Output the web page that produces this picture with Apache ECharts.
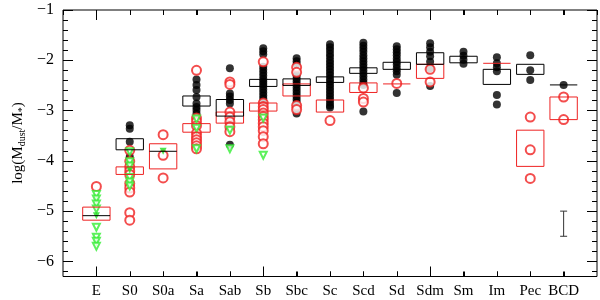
<!DOCTYPE html>
<html><head><meta charset="utf-8">
<script src="https://cdn.jsdelivr.net/npm/echarts@6/dist/echarts.min.js"></script>
<style>html,body{margin:0;padding:0;background:#fff}#c{width:600px;height:300px}</style>
</head><body><div id="c"></div>
<script>
const categories = ['E','S0','S0a','Sa','Sab','Sb','Sbc','Sc','Scd','Sd','Sdm','Sm','Im','Pec','BCD'];
const yMajorTicks = [-6,-5,-4,-3,-2,-1];

const blackPoints = [
  [],
  [-3.29,-3.36,-3.62,-3.92,-3.97,-4.19],
  [],
  [-2.38,-2.49,-2.59,-2.73,-2.86,-2.93,-2.99,-3.06,-3.13,-3.29],
  [-2.16,-2.66,-2.72,-2.79,-2.86,-3.19,-3.26,-3.68],
  [-1.76,-1.82,-1.88,-2.13,-2.19,-2.25,-2.31,-2.37,-2.42,-2.47,-2.52,-2.58,-2.64,-2.70,-2.76,-2.82,-2.88,-2.95,-3.02,-3.09],
  [-1.96,-2.02,-2.08,-2.30,-2.36,-2.42,-2.48,-2.54,-2.60,-2.66,-2.72,-2.78,-2.84,-2.94,-3.06],
  [-1.68,-1.74,-1.80,-1.87,-1.93,-2.00,-2.06,-2.12,-2.18,-2.24,-2.30,-2.36,-2.42,-2.48,-2.54,-2.60,-2.66,-2.72,-2.78,-2.84,-2.90,-2.94],
  [-1.65,-1.71,-1.77,-1.83,-1.90,-1.96,-2.02,-2.08,-2.14,-2.20,-2.26,-2.32,-2.38,-2.44,-2.49,-3.02],
  [-1.72,-1.78,-1.84,-1.90,-1.97,-2.03,-2.09,-2.16,-2.22,-2.29,-2.65],
  [-1.66,-1.74,-1.83,-1.92,-2.03,-2.16,-2.51],
  [-1.83,-1.91,-1.99,-2.07],
  [-1.94,-2.06,-2.14,-2.22,-2.69,-2.88],
  [-1.90,-2.20,-2.39],
  [-2.49]
];
const redPoints = [
  [-4.51],
  [-3.79,-4.01,-4.12,-4.20,-4.27,-4.45,-4.54,-4.62,-5.03,-5.18],
  [-3.48,-3.89,-4.34],
  [-2.20,-3.15,-3.22,-3.30,-3.45,-3.52,-3.58,-3.64,-3.70,-3.76],
  [-2.43,-2.48,-3.03,-3.13,-3.22,-3.32,-3.42],
  [-2.03,-2.85,-2.92,-2.98,-3.05,-3.12,-3.18,-3.25,-3.32,-3.40,-3.52,-3.66],
  [-2.14,-2.24,-2.90,-2.98],
  [-3.20],
  [-2.55,-2.76,-2.83],
  [-2.46],
  [-2.18,-2.43],
  [],
  [],
  [-3.13,-3.78,-4.35],
  [-2.73,-3.18]
];
const greenPoints = [
  [-4.67,-4.76,-4.86,-4.96,-5.32,-5.52,-5.60,-5.70],
  [-3.82,-4.02,-4.10,-4.33,-4.42,-4.50],
  [],
  [-3.17,-3.35,-3.76],
  [-3.39,-3.76],
  [-3.15,-3.89],
  [],[],[],[],[],[],[],[],[]
];
const greenFilled = [[-5.09],[-4.18],[-3.81],[],[],[],[],[],[],[],[],[],[],[],[]];
// boxes: [low, high] per category, null = none
const blackBoxes = [[-5.09,-5.09],[-3.78,-3.56],[-3.81,-3.81],[-2.91,-2.71],[-3.11,-2.78],[-2.52,-2.38],[-2.50,-2.37],[-2.44,-2.33],[-2.26,-2.15],[-2.18,-2.04],[-2.08,-1.85],[-2.05,-1.92],[-2.48,-2.18],[-2.28,-2.08],[-2.49,-2.49]];
const redBoxes = [[-5.18,-4.92],[-4.27,-4.12],[-4.16,-3.66],[-3.43,-3.26],[-3.25,-3.03],[-3.01,-2.85],[-2.71,-2.47],[-3.03,-2.79],[-2.64,-2.45],[-2.47,-2.47],[-2.36,-2.08],null,[-2.06,-2.06],[-4.11,-3.39],[-3.18,-2.73]];
const errorBar = [[14, -5.50, -5.00]];
const xMajor = [0,5,10];

const Y_MIN = -6.3, Y_MAX = -1;
function pts(arr){const out=[];arr.forEach((l,i)=>l.forEach(v=>out.push([i,v])));return out;}
function boxes(arr){const out=[];arr.forEach((b,i)=>{if(b)out.push([i,b[0],b[1]]);});return out;}
function boxRender(color){
  return function(params, api){
    const x=api.value(0), lo=api.value(1), hi=api.value(2);
    const p1=api.coord([x-0.41,hi]), p2=api.coord([x+0.41,lo]);
    const h=p2[1]-p1[1];
    if(h<1){
      return {type:'line',shape:{x1:p1[0],y1:p1[1],x2:p2[0],y2:p1[1]},style:{stroke:color,lineWidth:1}};
    }
    return {type:'rect',shape:{x:p1[0],y:p1[1],width:p2[0]-p1[0],height:h},style:{fill:'none',stroke:color,lineWidth:1}};
  };
}
const yMinor = [];
for(let k=-62;k<=-12;k+=2){ if(k%10!==0) yMinor.push(k/10); }
const xTickItems = categories.map((c,i)=>[i, -3.5]);

const serif = 'Liberation Serif';
const baseX = {type:'value',min:-1,max:15,interval:1,splitLine:{show:false}};
const baseY = {type:'value',min:Y_MIN,max:Y_MAX,splitLine:{show:false}};
const noLine = {show:false,onZero:false};
const tk = (vals,len)=>({show:true,inside:true,length:len,customValues:vals,lineStyle:{color:'#000',width:1}});
const tkx = {show:true,inside:true,length:5,lineStyle:{color:'#000',width:1}};

const chart = echarts.init(document.getElementById('c'),null,{renderer:'canvas'});
chart.setOption({
  animation:false,
  backgroundColor:'#fff',
  grid:{left:63,right:3,top:10,bottom:23.5,show:true,borderColor:'#000',borderWidth:1,backgroundColor:'transparent'},
  xAxis:[
    Object.assign({},baseX,{position:'bottom',axisLine:noLine,axisTick:tkx,
      axisLabel:{show:true,showMinLabel:false,showMaxLabel:false,formatter:v=>(categories[v]!==undefined?categories[v]:''),fontFamily:serif,fontSize:15,color:'#000',margin:7}}),
    Object.assign({},baseX,{position:'top',axisLine:noLine,axisTick:tkx,axisLabel:{show:false}})
  ],
  yAxis:[
    Object.assign({},baseY,{position:'left',axisLine:noLine,axisTick:tk(yMajorTicks,10),
      axisLabel:{show:true,customValues:yMajorTicks,formatter:v=>'\u2212'+Math.abs(v),fontFamily:serif,fontSize:16,color:'#000',margin:9}}),
    Object.assign({},baseY,{position:'left',axisLine:noLine,axisTick:tk(yMinor,5),axisLabel:{show:false}}),
    Object.assign({},baseY,{position:'right',axisLine:noLine,axisTick:tk(yMajorTicks,10),axisLabel:{show:false}}),
    Object.assign({},baseY,{position:'right',axisLine:noLine,axisTick:tk(yMinor,5),axisLabel:{show:false}})
  ],
  graphic:[{
    type:'text',x:18,y:143,rotation:Math.PI/2,
    style:{text:'{a|log(M}{s|dust}{a|/M}{s|*}{a|)}',align:'center',verticalAlign:'middle',
      rich:{a:{fontFamily:serif,fontSize:15,fill:'#000',lineHeight:18,verticalAlign:'middle'},
            s:{fontFamily:serif,fontSize:10,fill:'#000',lineHeight:18,verticalAlign:'bottom',padding:[8,0,0,0]}}}
  }],
  series:[
    {type:'scatter',data:pts(blackPoints),symbol:'circle',symbolSize:8,itemStyle:{color:'#000'},z:2},
    {type:'scatter',data:pts(redPoints),symbol:'emptyCircle',symbolSize:9,itemStyle:{color:'#f02020',borderColor:'#f02020',borderWidth:1},z:3},
    {type:'scatter',data:pts(greenPoints),symbol:'emptyTriangle',symbolRotate:180,symbolSize:7,itemStyle:{color:'#33ee33',borderColor:'#33ee33',borderWidth:1},z:4},
    {type:'scatter',data:pts(greenFilled),symbol:'triangle',symbolRotate:180,symbolSize:7,itemStyle:{color:'#22dd22'},z:5},
    {type:'custom',data:boxes(redBoxes),renderItem:boxRender('#ee2222'),z:6},
    {type:'custom',data:boxes(blackBoxes),renderItem:boxRender('#000'),z:7},
    {type:'custom',data:errorBar,z:8,renderItem:function(params,api){
      const x=api.value(0);const a=api.coord([x,api.value(1)]),b=api.coord([x,api.value(2)]);
      const s={stroke:'#333',lineWidth:1};
      return {type:'group',children:[
        {type:'line',shape:{x1:a[0],y1:a[1],x2:b[0],y2:b[1]},style:s},
        {type:'line',shape:{x1:a[0]-3.5,y1:a[1],x2:a[0]+3.5,y2:a[1]},style:s},
        {type:'line',shape:{x1:b[0]-3.5,y1:b[1],x2:b[0]+3.5,y2:b[1]},style:s}]};
    }},
    {type:'custom',data:xTickItems,z:9,clip:false,renderItem:function(params,api){
      const xv=api.value(0);
      const L = xMajor.indexOf(xv)>=0 ? 10 : 5;
      const px=Math.round(api.coord([xv,Y_MIN])[0]);
      const bot=api.coord([xv,Y_MIN])[1], top=api.coord([xv,Y_MAX])[1];
      return {type:'group',children:[
        {type:'rect',shape:{x:px,y:bot-L,width:1,height:L},style:{fill:'#000'}},
        {type:'rect',shape:{x:px,y:top,width:1,height:L},style:{fill:'#000'}}]};
    }}
  ]
});
</script></body></html>
